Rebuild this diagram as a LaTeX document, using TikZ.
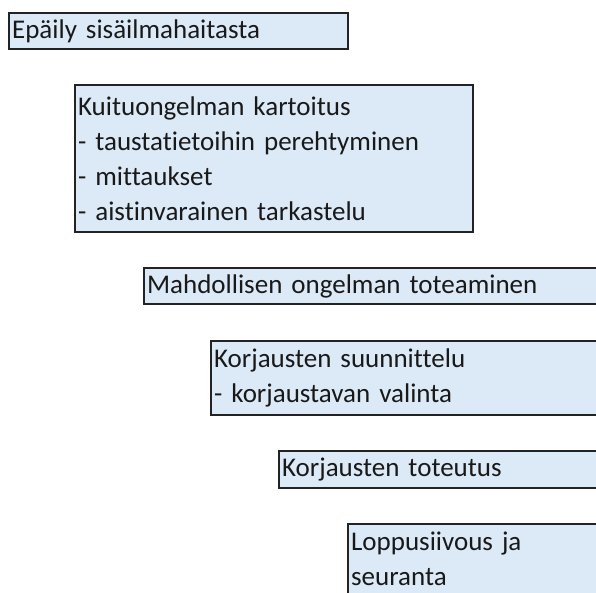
\documentclass[tikz,border=0pt]{standalone}
\usepackage{fontspec}
\setmainfont{Carlito}[Ligatures=NoCommon]
\definecolor{boxfill}{RGB}{220,233,246}
\definecolor{boxline}{RGB}{35,35,35}
\begin{document}
\begin{tikzpicture}[x=1pt,y=-1pt,
  stepbox/.style={draw=boxline, line width=2.2pt, fill=boxfill, anchor=north west,
    inner xsep=3pt, inner ysep=0pt, align=left,
    font=\fontsize{27}{35}\selectfont, text=black!90}]
\useasboundingbox[fill=white] (0,0) rectangle (596,593);
\node[stepbox, text width=333pt, minimum height=36pt] (b1) at (8,12) {Epäily sisäilmahaitasta};
\node[stepbox, text width=392pt, minimum height=147pt] (b2) at (74,84) {Kuituongelman kartoitus\\- taustatietoihin perehtyminen\\- mittaukset\\- aistinvarainen tarkastelu};
\node[stepbox, text width=470pt, minimum height=36pt] (b3) at (143,267) {Mahdollisen ongelman toteaminen};
\node[stepbox, text width=400pt, minimum height=74pt] (b4) at (210,340) {Korjausten suunnittelu\\- korjaustavan valinta};
\node[stepbox, text width=340pt, minimum height=37pt] (b5) at (278,450) {Korjausten toteutus};
\node[stepbox, text width=280pt, minimum height=70pt] (b6) at (347,523) {Loppusiivous ja\\seuranta};
\end{tikzpicture}
\end{document}
